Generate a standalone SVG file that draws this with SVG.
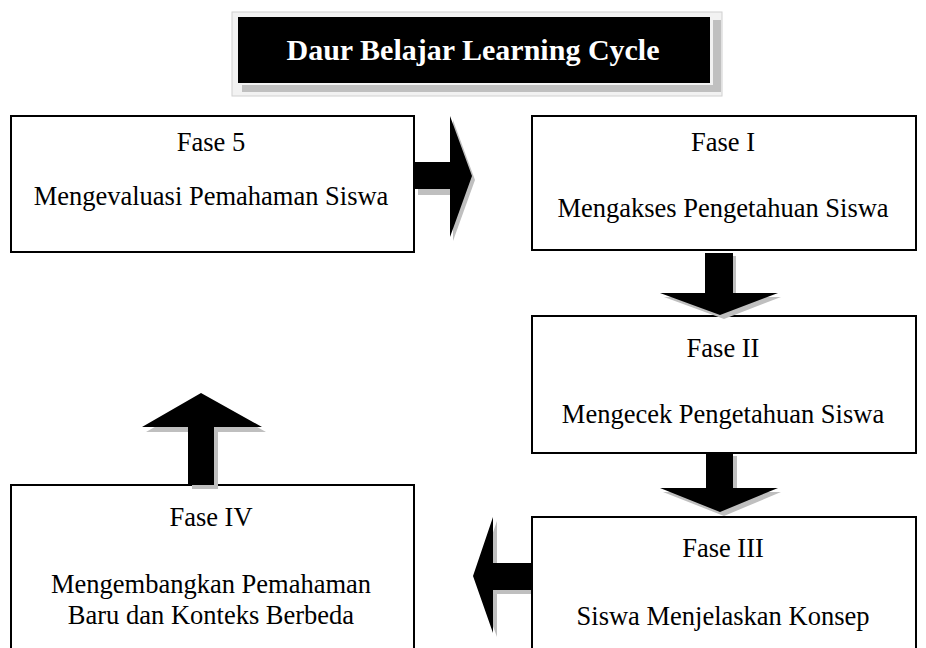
<svg xmlns="http://www.w3.org/2000/svg" width="926" height="648" viewBox="0 0 926 648">
<style>
.box{fill:#fff;stroke:#000;stroke-width:2}
.t{font-family:"Liberation Serif","Times New Roman",serif;font-size:26.5px;fill:#000;text-anchor:middle}
.title{font-family:"Liberation Serif","Times New Roman",serif;font-size:30px;font-weight:bold;fill:#fff;text-anchor:middle}
.arr{fill:#000}
.sh{fill:#bfbfbf}
</style>
<rect width="926" height="648" fill="#fff"/>
<g id="title">
<rect x="232" y="12" width="490" height="84" fill="#f2f2f2" stroke="#d0d0d0" stroke-width="1"/>
<rect x="713" y="20" width="8" height="72" fill="#c0c0c0"/>
<rect x="242" y="85" width="479" height="7" fill="#c0c0c0"/>
<rect x="238" y="17" width="472" height="66" fill="#000"/>
<text class="title" x="473" y="60">Daur Belajar Learning Cycle</text>
</g>
<g id="fase5">
<rect class="box" x="11" y="116" width="403" height="136"/>
<text class="t" x="211" y="151">Fase 5</text>
<text class="t" x="211" y="205">Mengevaluasi Pemahaman Siswa</text>
</g>
<g id="fase1">
<rect class="box" x="532" y="116" width="384" height="134"/>
<text class="t" x="723" y="151">Fase I</text>
<text class="t" x="723" y="217">Mengakses Pengetahuan Siswa</text>
</g>
<g id="fase2">
<rect class="box" x="532" y="316" width="384" height="137"/>
<text class="t" x="723" y="357">Fase II</text>
<text class="t" x="723" y="423">Mengecek Pengetahuan Siswa</text>
</g>
<g id="fase3">
<rect class="box" x="532" y="517" width="384" height="140"/>
<text class="t" x="723" y="557">Fase III</text>
<text class="t" x="723" y="625">Siswa Menjelaskan Konsep</text>
</g>
<g id="fase4">
<rect class="box" x="11" y="485" width="403" height="170"/>
<text class="t" x="211" y="526">Fase IV</text>
<text class="t" x="211" y="593">Mengembangkan Pemahaman</text>
<text class="t" x="211" y="624">Baru dan Konteks Berbeda</text>
</g>
<g id="connectors">
<polygon class="sh" points="418,166 453,166 453,120 475,180 453,241 453,195 418,195"/>
<polygon class="arr" points="415,162 450,162 450,116 472,176 450,237 450,189 415,189"/>
<polygon class="sh" points="709,256 736,256 736,297 781,297 724,319 664,297 709,297"/>
<polygon class="arr" points="705,253 733,253 733,293 778,293 720,315 660,293 705,293"/>
<polygon class="sh" points="710,456 737,456 737,492 781,492 724,516 663,492 710,492"/>
<polygon class="arr" points="706,453 733,453 733,488 778,488 720,512 660,488 706,488"/>
<polygon class="sh" points="531,567 497,567 497,521 476,581 497,637 497,594 531,594"/>
<polygon class="arr" points="531,563 493,563 493,517 473,576 493,633 493,590 531,590"/>
<polygon class="sh" points="192,489 218,489 218,432 266,432 205,398 146,432 192,432"/>
<polygon class="arr" points="188,485 214,485 214,427 262,427 201,393 142,427 188,427"/>
</g>
</svg>
